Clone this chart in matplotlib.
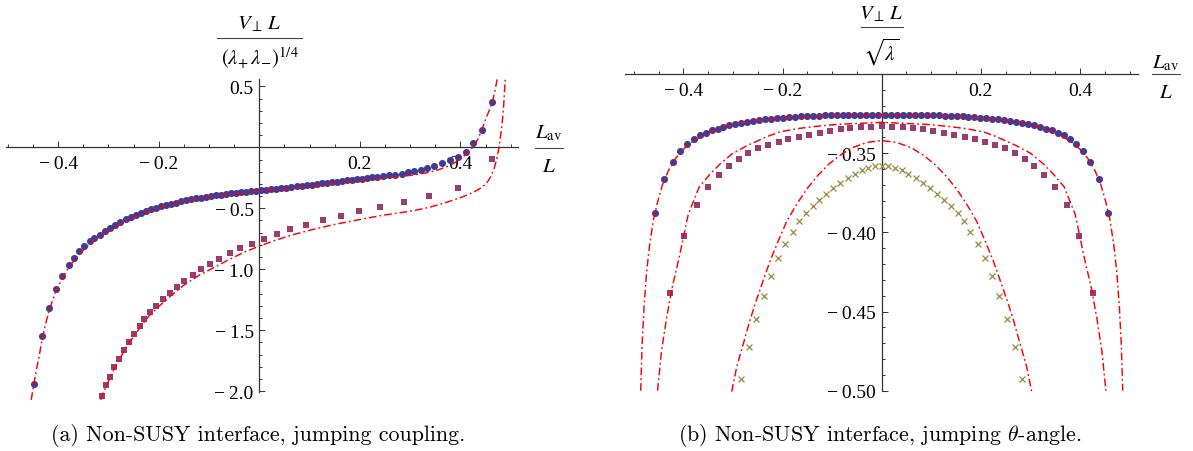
import numpy as np
import matplotlib
matplotlib.use("Agg")
import matplotlib.pyplot as plt
from matplotlib.lines import Line2D
from matplotlib.ticker import FixedLocator, FixedFormatter

plt.rcParams["font.family"] = ["Liberation Serif", "DejaVu Serif"]
plt.rcParams["mathtext.fontset"] = "stix"
plt.rcParams["lines.scale_dashes"] = False

# ---------------- data: panel (a) ----------------
A_BLUE_X = [-0.448, -0.433, -0.418, -0.405, -0.392, -0.379, -0.368, -0.358, -0.348, -0.337, -0.328, -0.317, -0.306,
            -0.296, -0.286, -0.276, -0.266, -0.256, -0.246, -0.236, -0.226, -0.216, -0.206, -0.196,
            -0.186, -0.176, -0.166, -0.156, -0.146, -0.136, -0.126, -0.116, -0.106, -0.096,
            -0.086, -0.076, -0.066, -0.056, -0.046, -0.036, -0.026, -0.016, -0.006,
            0.004, 0.014, 0.024, 0.034, 0.044, 0.054, 0.064, 0.074, 0.084, 0.094,
            0.104, 0.114, 0.124, 0.134, 0.144, 0.154, 0.164, 0.174, 0.184, 0.194,
            0.204, 0.214, 0.224, 0.234,
            0.2466, 0.2579, 0.2698, 0.2831, 0.2957, 0.3082, 0.3209, 0.334, 0.3473, 0.3638, 0.379, 0.3944,
            0.4103, 0.4254, 0.4427, 0.4626]
A_BLUE_Y = [-1.943, -1.546, -1.320, -1.164, -1.055, -0.964, -0.910, -0.847, -0.809, -0.770, -0.746, -0.716, -0.686,
            -0.660, -0.6355, -0.6125, -0.591, -0.571, -0.5525, -0.5355, -0.520, -0.506, -0.4935, -0.4825,
            -0.472, -0.462, -0.4525, -0.4435, -0.435, -0.427, -0.4195, -0.4125, -0.406, -0.400,
            -0.394, -0.3885, -0.383, -0.378, -0.3735, -0.369, -0.365, -0.361, -0.3575,
            -0.3535, -0.349, -0.3445, -0.340, -0.3355, -0.331, -0.326, -0.321, -0.316, -0.311,
            -0.306, -0.301, -0.296, -0.291, -0.286, -0.281, -0.2765, -0.2715, -0.2665, -0.2615,
            -0.2565, -0.2515, -0.2465, -0.241,
            -0.238, -0.231, -0.224, -0.215, -0.205, -0.194, -0.182, -0.168, -0.152, -0.131, -0.108, -0.077,
            -0.036, 0.033, 0.144, 0.374]

A_SQ_X = [-0.313, -0.305, -0.296, -0.288, -0.279, -0.269, -0.260, -0.250, -0.238, -0.229,
          -0.217, -0.205, -0.191, -0.177, -0.164, -0.149, -0.132, -0.115, -0.098, -0.080,
          -0.059, -0.038, -0.015, 0.009, 0.035, 0.062, 0.093, 0.126, 0.162, 0.199,
          0.240, 0.288, 0.338, 0.396, 0.463]
A_SQ_Y = [-2.038, -1.951, -1.883, -1.801, -1.732, -1.661, -1.593, -1.527, -1.464, -1.404,
          -1.347, -1.298, -1.246, -1.194, -1.142, -1.096, -1.044, -1.000, -0.954, -0.913,
          -0.869, -0.828, -0.792, -0.749, -0.713, -0.672, -0.634, -0.600, -0.564, -0.522,
          -0.489, -0.445, -0.399, -0.333, -0.092]

A_FIT1_X = [-0.4535, -0.4505, -0.447, -0.443, -0.438, -0.433, -0.425, -0.418, -0.405, -0.392, -0.379, -0.365,
            -0.348, -0.33, -0.31, -0.29, -0.266, -0.236, -0.2, -0.16, -0.12, -0.08, -0.04, 0.0, 0.04, 0.08,
            0.12, 0.16, 0.2, 0.24, 0.28, 0.31, 0.335, 0.355, 0.372, 0.386, 0.398, 0.408, 0.418, 0.427,
            0.435, 0.443, 0.45, 0.457, 0.464, 0.469, 0.473]
A_FIT1_Y = [-2.07, -2.0, -1.91, -1.82, -1.72, -1.60, -1.45, -1.34, -1.185, -1.075, -0.985, -0.91,
            -0.835, -0.77, -0.71, -0.66, -0.605, -0.55, -0.495, -0.452, -0.418, -0.392, -0.374, -0.362, -0.347, -0.329,
            -0.309, -0.29, -0.272, -0.256, -0.24, -0.225, -0.207, -0.186, -0.16, -0.132, -0.10, -0.067, -0.03, 0.015,
            0.07, 0.15, 0.23, 0.30, 0.38, 0.47, 0.56]

A_FIT2_X = [-0.315, -0.313, -0.31, -0.30, -0.29, -0.275, -0.26, -0.24, -0.22, -0.2, -0.175, -0.15, -0.12,
            -0.09, -0.06, -0.03, 0.0, 0.03, 0.06, 0.1, 0.15, 0.2, 0.24, 0.27, 0.306, 0.34, 0.3725, 0.4,
            0.4255, 0.44, 0.452, 0.461, 0.468, 0.473, 0.4766, 0.48, 0.483, 0.486, 0.489]
A_FIT2_Y = [-2.07, -2.045, -2.01, -1.92, -1.83, -1.715, -1.61, -1.495, -1.385, -1.305, -1.215, -1.13, -1.05,
            -0.985, -0.92, -0.86, -0.81, -0.765, -0.725, -0.68, -0.632, -0.592, -0.561, -0.542, -0.52, -0.49, -0.451, -0.413,
            -0.369, -0.335, -0.295, -0.235, -0.16, -0.08, 0.0, 0.1, 0.2, 0.35, 0.56]

A_XTICKS = [-0.4, -0.2, 0.2, 0.4]
A_XTICKLABELS = ["\u2212\u20090.4", "\u2212\u20090.2", "0.2", "0.4"]
A_YTICKS = [0.5, -0.5, -1.0, -1.5, -2.0]
A_YTICKLABELS = ["0.5", "\u2212\u20090.5", "\u2212\u20091.0", "\u2212\u20091.5", "\u2212\u20092.0"]

# ---------------- data: panel (b) ----------------
B_BLUE_X = [-0.457, -0.438, -0.421, -0.406, -0.392,
            -0.379, -0.367, -0.355, -0.343, -0.331, -0.319, -0.307, -0.295, -0.283, -0.271, -0.259, -0.247,
            -0.235, -0.223, -0.211, -0.199, -0.187, -0.175, -0.163, -0.151, -0.139, -0.127, -0.115, -0.103,
            -0.091, -0.079, -0.067, -0.055, -0.043, -0.031, -0.019, -0.007,
            0.007, 0.019, 0.031, 0.043, 0.055, 0.067, 0.079, 0.091,
            0.103, 0.115, 0.127, 0.139, 0.151, 0.163, 0.175, 0.187, 0.199, 0.211, 0.223, 0.235,
            0.247, 0.259, 0.271, 0.283, 0.295, 0.307, 0.319, 0.331, 0.343, 0.355, 0.367, 0.379,
            0.392, 0.406, 0.421, 0.438, 0.457]
B_BLUE_Y = [-0.3877, -0.3664, -0.3553, -0.3489, -0.3440,
            -0.3410, -0.3388, -0.3370, -0.3356, -0.3344, -0.3333, -0.3324, -0.3316, -0.3309, -0.3302, -0.3296, -0.3291,
            -0.3286, -0.3282, -0.3278, -0.3275, -0.3272, -0.3269, -0.3267, -0.3265, -0.3263, -0.3262, -0.3261, -0.3260,
            -0.3259, -0.3258, -0.3258, -0.3257, -0.3257, -0.3257, -0.3257, -0.3257,
            -0.3257, -0.3257, -0.3257, -0.3257, -0.3257, -0.3258, -0.3258, -0.3259,
            -0.3260, -0.3261, -0.3262, -0.3263, -0.3265, -0.3267, -0.3269, -0.3272, -0.3275, -0.3278, -0.3282, -0.3286,
            -0.3291, -0.3296, -0.3302, -0.3309, -0.3316, -0.3324, -0.3333, -0.3344, -0.3356, -0.3370, -0.3388, -0.3410,
            -0.3440, -0.3489, -0.3553, -0.3664, -0.3877]

B_SQ_X = [-0.427, -0.398, -0.373, -0.350, -0.328, -0.307, -0.288, -0.269, -0.249, -0.229, -0.208,
          -0.188, -0.167, -0.146, -0.125, -0.104, -0.083, -0.063, -0.042, -0.021, 0.0,
          0.021, 0.042, 0.063, 0.083, 0.104, 0.125, 0.146, 0.167, 0.188,
          0.208, 0.229, 0.249, 0.269, 0.288, 0.307, 0.328, 0.350, 0.373, 0.398, 0.427]
B_SQ_Y = [-0.438, -0.402, -0.383, -0.3716, -0.3638, -0.358, -0.3537, -0.350, -0.347, -0.3448, -0.3427,
          -0.341, -0.3395, -0.3382, -0.337, -0.336, -0.335, -0.3342, -0.3336, -0.3332, -0.3331,
          -0.3332, -0.3336, -0.3342, -0.335, -0.336, -0.337, -0.3382, -0.3395, -0.341,
          -0.3427, -0.3448, -0.347, -0.350, -0.3537, -0.358, -0.3638, -0.3716, -0.383, -0.402, -0.438]

B_X_X = [-0.283, -0.268, -0.2525, -0.237, -0.223, -0.209, -0.194, -0.179, -0.166, -0.153, -0.139,
         -0.1258, -0.112, -0.0976, -0.084, -0.0686, -0.054, -0.0403, -0.027, -0.0135, 0.0,
         0.0135, 0.027, 0.0403, 0.054, 0.0686, 0.084, 0.0976, 0.112, 0.1258, 0.139,
         0.153, 0.166, 0.179, 0.194, 0.209, 0.223, 0.237, 0.2525, 0.268, 0.283]
B_X_Y = [-0.4925, -0.4725, -0.4545, -0.4400, -0.4275, -0.4165, -0.4075, -0.3995, -0.3930, -0.3880, -0.3835,
         -0.3795, -0.3758, -0.3722, -0.3690, -0.3657, -0.3630, -0.3608, -0.3592, -0.3582, -0.3579,
         -0.3582, -0.3592, -0.3608, -0.3630, -0.3657, -0.3690, -0.3722, -0.3758, -0.3795, -0.3835,
         -0.3880, -0.3930, -0.3995, -0.4075, -0.4165, -0.4275, -0.4400, -0.4545, -0.4725, -0.4925]

B_FIT1_X = [-0.486, -0.483, -0.479, -0.474, -0.468, -0.46, -0.452, -0.442, -0.43, -0.415, -0.4, -0.385, -0.365,
            -0.345, -0.32, -0.29, -0.25, -0.2, -0.15, -0.1, 0.0, 0.1, 0.15, 0.2, 0.25, 0.29, 0.32, 0.345,
            0.365, 0.385, 0.4, 0.415, 0.43, 0.442, 0.452, 0.46, 0.468, 0.474, 0.479, 0.483, 0.486]
B_FIT1_Y = [-0.5, -0.47, -0.446, -0.425, -0.408, -0.3916, -0.381, -0.370, -0.361, -0.353, -0.3475, -0.3435, -0.3395,
            -0.3365, -0.3335, -0.3312, -0.3292, -0.3278, -0.3268, -0.3262, -0.3257, -0.3262, -0.3268, -0.3278, -0.3292,
            -0.3312, -0.3335, -0.3365, -0.3395, -0.3435, -0.3475, -0.353, -0.361, -0.370, -0.381, -0.3916, -0.408,
            -0.425, -0.446, -0.47, -0.5]

B_FIT2_X = [-0.452, -0.444, -0.434, -0.423, -0.4076, -0.39, -0.368, -0.345, -0.326, -0.3, -0.27, -0.231, -0.205,
            -0.17, -0.138, -0.09, 0.0, 0.09, 0.138, 0.17, 0.205, 0.231, 0.27, 0.3, 0.326, 0.345, 0.368, 0.39,
            0.4076, 0.423, 0.434, 0.444, 0.452]
B_FIT2_Y = [-0.50, -0.475, -0.4545, -0.4356, -0.4147, -0.3885, -0.3713, -0.3628, -0.3568, -0.350, -0.345, -0.3395,
            -0.3365, -0.3345, -0.3332, -0.3318, -0.3305, -0.3318, -0.3332, -0.3345, -0.3365, -0.3395, -0.345, -0.350,
            -0.3568, -0.3628, -0.3713, -0.3885, -0.4147, -0.4356, -0.4545, -0.475, -0.50]

B_FIT3_X = [-0.3025, -0.292, -0.278, -0.2667, -0.2552, -0.2385, -0.225, -0.21, -0.1915, -0.172, -0.151, -0.13,
            -0.107, -0.085, -0.06, -0.03, 0.0, 0.03, 0.06, 0.085, 0.107, 0.13, 0.151, 0.172, 0.1915, 0.21,
            0.225, 0.2385, 0.2552, 0.2667, 0.278, 0.292, 0.3025]
B_FIT3_Y = [-0.5006, -0.4845, -0.4692, -0.4566, -0.4451, -0.430, -0.418, -0.4065, -0.393, -0.3825, -0.3726, -0.3645,
            -0.357, -0.3515, -0.3466, -0.3432, -0.342, -0.3432, -0.3466, -0.3515, -0.357, -0.3645, -0.3726, -0.3825,
            -0.393, -0.4065, -0.418, -0.430, -0.4451, -0.4566, -0.4692, -0.4845, -0.5006]

B_XTICKS = [-0.4, -0.2, 0.2, 0.4]
B_XTICKLABELS = ["\u2212\u20090.4", "\u2212\u20090.2", "0.2", "0.4"]
B_YTICKS = [-0.35, -0.40, -0.45, -0.50]
B_YTICKLABELS = ["\u2212\u20090.35", "\u2212\u20090.40", "\u2212\u20090.45", "\u2212\u20090.50"]

# ---------------- styling ----------------
W, H = 1193, 452
C_BLUE = "#3d3d99"
C_PURPLE = "#993d71"
C_OLIVE = "#998b3d"
C_RED = "#ff0000"
C_AXIS = "#333333"
DASH = (0, (5.5, 2.2, 1.3, 2.2))
TICK_FS = 14


def fx(x):
    return x / W


def fy(y):
    return 1 - y / H


def rect(l, t, r, b):
    return [l / W, 1 - b / H, (r - l) / W, (b - t) / H]


fig = plt.figure(figsize=(W / 100, H / 100), dpi=100)


def style_axes(ax, x0, y0, xmaj, xlab, xmin, ymaj, ylab, ymin, ybounds):
    for s in ("top", "right"):
        ax.spines[s].set_visible(False)
    ax.spines["left"].set_position(("data", x0))
    ax.spines["bottom"].set_position(("data", y0))
    ax.spines["left"].set_bounds(*ybounds)
    for s in ("left", "bottom"):
        ax.spines[s].set_color(C_AXIS)
        ax.spines[s].set_linewidth(0.9)
        ax.spines[s].set_zorder(1)
    ax.xaxis.set_major_locator(FixedLocator(xmaj))
    ax.xaxis.set_major_formatter(FixedFormatter(xlab))
    ax.xaxis.set_minor_locator(FixedLocator(xmin))
    ax.yaxis.set_major_locator(FixedLocator(ymaj))
    ax.yaxis.set_major_formatter(FixedFormatter(ylab))
    ax.yaxis.set_minor_locator(FixedLocator(ymin))
    ax.tick_params(which="both", direction="in", color=C_AXIS, width=0.7, labelsize=TICK_FS)
    ax.tick_params(which="major", length=4.2)
    ax.tick_params(which="minor", length=2.4)
    ax.tick_params(axis="x", which="major", pad=5.5)
    ax.tick_params(axis="y", which="major", pad=4)
    ax.patch.set_visible(False)


# ---------------- panel (a) ----------------
ax1 = fig.add_axes(rect(5.8, 80, 518.3, 400.8))
ax1.set_xlim(-0.504, 0.515)
ax1.set_ylim(-2.07, 0.56)
xmin_a = [v for v in np.round(np.arange(-0.5, 0.501, 0.05), 3) if abs(v) > 1e-9]
ymin_a = [v for v in np.round(np.arange(-2.0, 0.501, 0.1), 3) if abs(v) > 1e-9]
style_axes(ax1, 0.0, 0.0, A_XTICKS, A_XTICKLABELS, xmin_a, A_YTICKS, A_YTICKLABELS, ymin_a, (-2.005, 0.56))

ax1.plot(A_BLUE_X, A_BLUE_Y, "o", color=C_BLUE, ms=5.1, mew=0, zorder=2)
ax1.plot(A_SQ_X, A_SQ_Y, "s", color=C_PURPLE, ms=4.1, mew=0, zorder=2)
ax1.plot(A_FIT1_X, A_FIT1_Y, color=C_RED, lw=1.05, linestyle=DASH, zorder=3)
ax1.plot(A_FIT2_X, A_FIT2_Y, color=C_RED, lw=1.05, linestyle=DASH, zorder=3)

# ---------------- panel (b) ----------------
ax2 = fig.add_axes(rect(624.8, 68.7, 1138.1, 392.5))
ax2.set_xlim(-0.518, 0.517)
ax2.set_ylim(-0.5005, -0.296)
xmin_b = [v for v in np.round(np.arange(-0.5, 0.501, 0.05), 3) if abs(v) > 1e-9]
ymin_b = list(np.round(np.arange(-0.50, -0.3049, 0.01), 3))
style_axes(ax2, 0.0, -0.30, B_XTICKS, B_XTICKLABELS, xmin_b, B_YTICKS, B_YTICKLABELS, ymin_b, (-0.50, -0.30))

ax2.plot(B_BLUE_X, B_BLUE_Y, "o", color=C_BLUE, ms=5.1, mew=0, zorder=2)
ax2.plot(B_SQ_X, B_SQ_Y, "s", color=C_PURPLE, ms=4.1, mew=0, zorder=2)
ax2.plot(B_X_X, B_X_Y, "x", color=C_OLIVE, ms=3.8, mew=0.9, zorder=2)
for xs, ys in ((B_FIT1_X, B_FIT1_Y), (B_FIT2_X, B_FIT2_Y), (B_FIT3_X, B_FIT3_Y)):
    ax2.plot(xs, ys, color=C_RED, lw=1.05, linestyle=DASH, zorder=3)

# ---------------- axis labels (fractions) ----------------
LAB_FS = 15


def frac(xc, y_num, y_bar, y_den, half, num, den, fs=LAB_FS):
    fig.text(fx(xc), fy(y_num), num, ha="center", va="center", fontsize=fs)
    fig.text(fx(xc), fy(y_den), den, ha="center", va="center", fontsize=fs)
    fig.add_artist(Line2D([fx(xc - half), fx(xc + half)], [fy(y_bar), fy(y_bar)],
                          transform=fig.transFigure, color="#444444", lw=0.8))


frac(259.5, 24, 38.5, 58, 42.5, r"$V_{\perp}\,L$", r"$(\lambda_{+}\,\lambda_{-})^{1/4}$")
frac(549, 133, 149, 168, 14, r"$L_{\mathrm{av}}$", r"$L$")
frac(881.5, 14, 28.3, 52, 21, r"$V_{\perp}\,L$", r"$\sqrt{\lambda}$")
frac(1166, 63, 75, 94, 14, r"$L_{\mathrm{av}}$", r"$L$")

# ---------------- captions ----------------
CAP_FS = 15.8
fig.text(fx(258.5), fy(441), "(a) Non-SUSY interface, jumping coupling.", ha="center", va="baseline",
         fontsize=CAP_FS, family="cmr10")
fig.text(fx(880), fy(441), r"(b) Non-SUSY interface, jumping $\theta$-angle.", ha="center", va="baseline",
         fontsize=CAP_FS, family="cmr10", math_fontfamily="cm")

fig.savefig("out.png", dpi=100)
